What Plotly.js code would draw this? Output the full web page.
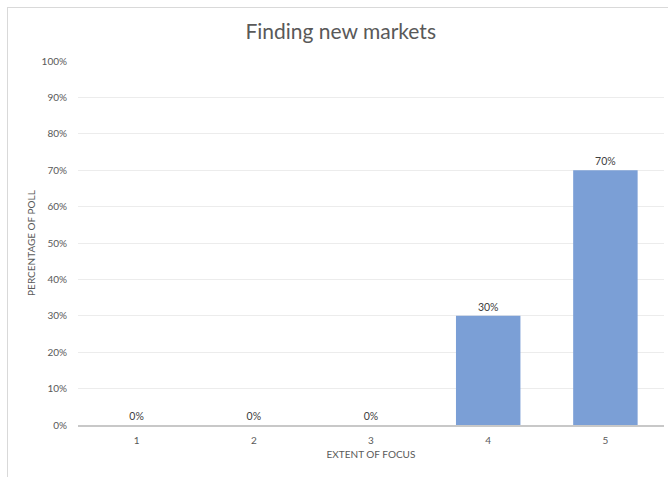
<!DOCTYPE html>
<html>
<head>
<meta charset="utf-8">
<script src="https://cdn.plot.ly/plotly-3.0.1.min.js"></script>
<style>
  html, body { margin: 0; padding: 0; background: #ffffff; overflow: hidden; }
  #frame { position: absolute; left: 7px; top: 7px; width: 700px; height: 500px;
           border-left: 1.5px solid #d9d9d9; border-top: 1.5px solid #d9d9d9; pointer-events: none; z-index: 5; }
  #chart { position: absolute; left: 0; top: 0; width: 668px; height: 477px; }
</style>
</head>
<body>
<div id="chart"></div>
<div id="frame"></div>
<script>
const categories = ["1", "2", "3", "4", "5"];
const values = [0, 0, 0, 0.30, 0.70];
const labels = ["0%", "0%", "0%", "30%", "70%"];
const yTickValues = [0, 0.1, 0.2, 0.3, 0.4, 0.5, 0.6, 0.7, 0.8, 0.9, 1.0];

const trace = {
  type: "bar",
  x: categories,
  y: values,
  text: labels,
  textposition: "outside",
  cliponaxis: false,
  textfont: { family: "Lato, 'Open Sans', sans-serif", size: 10.5, color: "#404040" },
  marker: { color: "#7b9fd6", line: { width: 0 } },
  hoverinfo: "none"
};

const layout = {
  width: 668,
  height: 477,
  margin: { l: 78, r: 4, t: 61, b: 52 },
  paper_bgcolor: "#ffffff",
  plot_bgcolor: "#ffffff",
  font: { family: "Lato, 'Open Sans', sans-serif", color: "#595959", size: 10 },
  title: {
    text: "Finding new markets",
    font: { size: 21, color: "#595959", family: "Lato, 'Open Sans', sans-serif" },
    x: 0.51, xanchor: "center", xref: "container",
    y: 0.933, yanchor: "middle", yref: "container"
  },
  bargap: 0.45,
  showlegend: false,
  xaxis: {
    type: "category",
    showline: true, linecolor: "#c8c8c8", linewidth: 1.5,
    showgrid: false, zeroline: false,
    ticks: "outside", ticklen: 5, tickcolor: "rgba(0,0,0,0)",
    tickfont: { size: 10, color: "#595959" },
    title: { text: "EXTENT OF FOCUS", font: { size: 10, color: "#595959" }, standoff: 6 }
  },
  yaxis: {
    range: [0, 1],
    tickvals: yTickValues,
    tickformat: ".0%",
    showgrid: true, gridcolor: "#ececec", gridwidth: 1,
    zeroline: false, showline: false,
    ticks: "outside", ticklen: 8, tickcolor: "rgba(0,0,0,0)",
    tickfont: { size: 10, color: "#595959" },
    title: { text: "PERCENTAGE OF POLL", font: { size: 10, color: "#595959" }, standoff: 4 }
  }
};

Plotly.newPlot("chart", [trace], layout, { displayModeBar: false, staticPlot: true });
</script>
</body>
</html>
